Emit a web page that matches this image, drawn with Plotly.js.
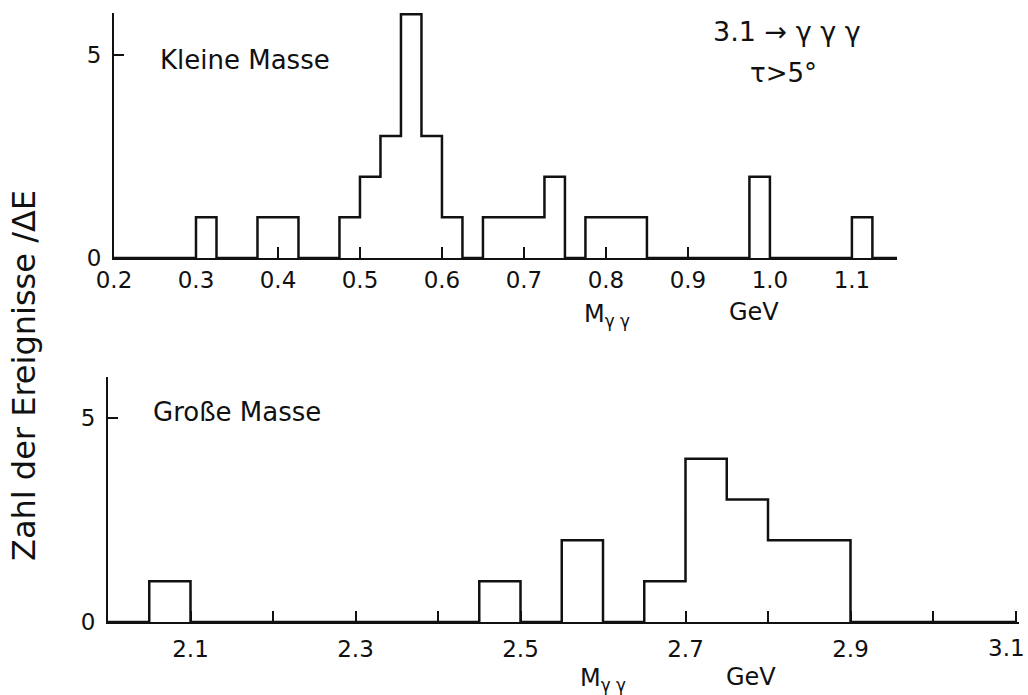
<!DOCTYPE html>
<html>
<head>
<meta charset="utf-8">
<script src="https://cdn.plot.ly/plotly-3.0.1.min.js"></script>
<style>
  html, body { margin: 0; padding: 0; background: #fff; }
  #chart { width: 1028px; height: 695px; }
</style>
</head>
<body>
<div id="chart"></div>
<script>
// Low-mass γγ spectrum: left edges of the filled bins (GeV) and event counts
const smallMassBinStarts = [0.300, 0.375, 0.400, 0.475, 0.500, 0.525, 0.550, 0.575, 0.600,
                            0.650, 0.675, 0.700, 0.725, 0.775, 0.800, 0.825, 0.975, 1.100];
const smallMassCounts    = [1, 1, 1, 1, 2, 3, 6, 3, 1,
                            1, 1, 1, 2, 1, 1, 1, 2, 1];
const smallMassBinWidth  = 0.025;

// High-mass γγ spectrum
const largeMassBinStarts = [2.05, 2.45, 2.55, 2.65, 2.70, 2.75, 2.80, 2.85];
const largeMassCounts    = [1, 1, 2, 1, 4, 3, 2, 2];
const largeMassBinWidth  = 0.05;

// Axis ticks
const smallTickVals = [0.2, 0.3, 0.4, 0.5, 0.6, 0.7, 0.8, 0.9, 1.0, 1.1];
const smallTickText = ['0.2', '0.3', '0.4', '0.5', '0.6', '0.7', '0.8', '0.9', '1.0', '1.1'];
const largeTickVals = [2.1, 2.3, 2.5, 2.7, 2.9];
const largeTickText = ['2.1', '2.3', '2.5', '2.7', '2.9'];
const largeUnlabelledTicks = [2.2, 2.4, 2.6, 2.8, 3.0, 3.1];
// the last lower-axis label sits flush with the page edge and is placed on its own
const largeEndLabel = { value: 3.1, text: '3.1' };
const countTickVals = [0, 5];
const countTickText = ['0', '5'];

// Turn bins into an outline path drawn with horizontal-then-vertical steps
function stepOutline(starts, counts, width, lo, hi) {
  const xs = [lo], ys = [0];
  for (let i = 0; i < starts.length; i++) {
    const end = starts[i] + width;
    xs.push(starts[i]); ys.push(counts[i]);
    const next = i + 1 < starts.length ? starts[i + 1] : null;
    if (next === null || Math.abs(next - end) > 1e-9) {
      xs.push(end); ys.push(0);
    }
  }
  xs.push(hi); ys.push(0);
  return { xs, ys };
}

const W = 1028, H = 695;
const px = v => v / W;
const py = v => 1 - v / H;

const FONT = 'DejaVu Sans';
const INK = '#111';

const small = stepOutline(smallMassBinStarts, smallMassCounts, smallMassBinWidth, 0.2, 1.155);
const large = stepOutline(largeMassBinStarts, largeMassCounts, largeMassBinWidth, 2.0, 3.1);

const traces = [
  { x: small.xs, y: small.ys, xaxis: 'x', yaxis: 'y', mode: 'lines',
    line: { shape: 'hv', color: INK, width: 2.5 }, hoverinfo: 'x+y', cliponaxis: false },
  { x: large.xs, y: large.ys, xaxis: 'x2', yaxis: 'y2', mode: 'lines',
    line: { shape: 'hv', color: INK, width: 2.5 }, hoverinfo: 'x+y', cliponaxis: false }
];

const xCommon = {
  showgrid: false, zeroline: false, showline: true, linecolor: INK, linewidth: 2,
  ticks: 'inside', ticklen: 11, tickwidth: 2, tickcolor: INK,
  tickfont: { family: FONT, size: 23, color: INK }, tickmode: 'array', fixedrange: true
};
const yCommon = {
  showgrid: false, zeroline: false, showline: true, linecolor: INK, linewidth: 2,
  ticks: 'inside', ticklen: 10, tickwidth: 2, tickcolor: INK,
  tickfont: { family: FONT, size: 23, color: INK }, tickmode: 'array',
  tickvals: countTickVals, ticktext: countTickText, ticklabelstandoff: 6, fixedrange: true
};

// The lower mass axis runs slightly past 3.1 so the end tick is not trimmed at the corner
const largeHi = 3.104;
const largeX0 = 108, largePxPerGeV = 825;

const layout = {
  width: W, height: H,
  margin: { l: 0, r: 0, t: 0, b: 0 },
  paper_bgcolor: '#fff', plot_bgcolor: 'rgba(0,0,0,0)',
  showlegend: false,
  xaxis: Object.assign({}, xCommon, {
    domain: [px(114), px(897)], range: [0.2, 1.155], anchor: 'y',
    tickvals: smallTickVals, ticktext: smallTickText, ticklabelstandoff: 0
  }),
  yaxis: Object.assign({}, yCommon, {
    domain: [py(258), py(13)], range: [0, 6.03], anchor: 'x'
  }),
  xaxis2: Object.assign({}, xCommon, {
    domain: [px(largeX0), px(largeX0 + (largeHi - 2.0) * largePxPerGeV)],
    range: [2.0, largeHi], anchor: 'y2',
    tickvals: largeTickVals, ticktext: largeTickText, ticklabelstandoff: 5,
    minor: { tickmode: 'array', tickvals: largeUnlabelledTicks, ticks: 'inside',
             ticklen: 11, tickwidth: 2, tickcolor: INK, showgrid: false }
  }),
  yaxis2: Object.assign({}, yCommon, {
    domain: [py(622), py(377)], range: [0, 6.0], anchor: 'x2'
  }),
  annotations: [
    { text: largeEndLabel.text, xref: 'x2', yref: 'paper', x: largeEndLabel.value, y: py(648),
      xanchor: 'right', yanchor: 'middle', xshift: 11, showarrow: false,
      font: { family: FONT, size: 23, color: INK } },
    { text: 'Zahl der Ereignisse /ΔE', textangle: -90, xref: 'paper', yref: 'paper',
      x: px(24), y: py(376), xanchor: 'center', yanchor: 'middle', showarrow: false,
      font: { family: FONT, size: 32, color: INK } },
    { text: 'Kleine Masse', xref: 'paper', yref: 'paper', x: px(158), y: py(60),
      xanchor: 'left', yanchor: 'middle', showarrow: false,
      font: { family: FONT, size: 26, color: INK } },
    { text: 'Große Masse', xref: 'paper', yref: 'paper', x: px(151), y: py(412),
      xanchor: 'left', yanchor: 'middle', showarrow: false,
      font: { family: FONT, size: 26, color: INK } },
    { text: '3.1 → γ γ γ', xref: 'paper', yref: 'paper', x: px(787), y: py(32),
      xanchor: 'center', yanchor: 'middle', showarrow: false,
      font: { family: FONT, size: 27, color: INK } },
    { text: 'τ>5°', xref: 'paper', yref: 'paper', x: px(783), y: py(73),
      xanchor: 'center', yanchor: 'middle', showarrow: false,
      font: { family: FONT, size: 26, color: INK } },
    { text: 'M<sub>γ γ</sub>', xref: 'paper', yref: 'paper', x: px(582), y: py(315),
      xanchor: 'left', yanchor: 'middle', showarrow: false,
      font: { family: FONT, size: 24, color: INK } },
    { text: 'GeV', xref: 'paper', yref: 'paper', x: px(727), y: py(312),
      xanchor: 'left', yanchor: 'middle', showarrow: false,
      font: { family: FONT, size: 24, color: INK } },
    { text: 'M<sub>γ γ</sub>', xref: 'paper', yref: 'paper', x: px(578), y: py(679),
      xanchor: 'left', yanchor: 'middle', showarrow: false,
      font: { family: FONT, size: 24, color: INK } },
    { text: 'GeV', xref: 'paper', yref: 'paper', x: px(724), y: py(677),
      xanchor: 'left', yanchor: 'middle', showarrow: false,
      font: { family: FONT, size: 24, color: INK } }
  ]
};

Plotly.newPlot('chart', traces, layout, { displayModeBar: false, staticPlot: true });
</script>
</body>
</html>
